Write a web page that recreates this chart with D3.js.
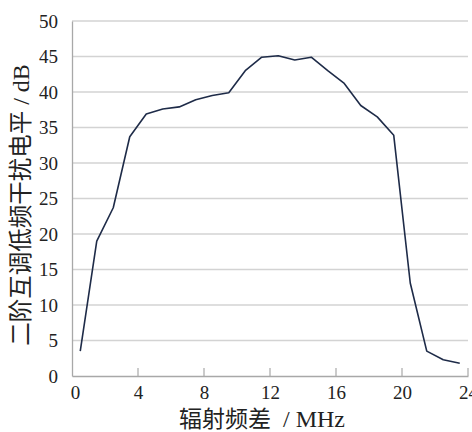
<!DOCTYPE html>
<html><head><meta charset="utf-8">
<script src="https://cdn.jsdelivr.net/npm/d3@7"></script>
<style>body{margin:0;background:#fff}svg{display:block}</style>
</head><body>
<svg id="c" width="472" height="432"></svg>
<script>
const freqDiff = [0.5,1.5,2.5,3.5,4.5,5.5,6.5,7.5,8.5,9.5,10.5,11.5,12.5,13.5,14.5,15.5,16.5,17.5,18.5,19.5,20.5,21.5,22.5,23.5];
const level = [3.5,19,23.7,33.7,36.9,37.6,37.9,38.9,39.5,39.9,43,44.9,45.1,44.5,44.9,43,41.2,38.1,36.5,33.9,13.1,3.5,2.3,1.8];
const xTicks = [0,4,8,12,16,20,24];
const yTicks = [0,5,10,15,20,25,30,35,40,45,50];
const xTitle = ["辐射频差", "  / MHz"];
const yTitle = ["二阶互调低频干扰电平", " / dB"];

const SERIF = "Liberation Serif";
const CJK = "Noto Sans CJK SC";
const svg = d3.select("#c");
const L = 72, R = 468, T = 21, B = 376;
const x = d3.scaleLinear().domain([0,24]).range([L,R]);
const y = d3.scaleLinear().domain([0,50]).range([B,T]);

// gridlines
svg.append("g").selectAll("line").data(yTicks.filter(d=>d>0)).join("line")
  .attr("x1",L).attr("x2",R).attr("y1",d=>y(d)).attr("y2",d=>y(d))
  .attr("stroke","#d3d3d3").attr("stroke-width",1.3);

// x axis
const xa = svg.append("g").attr("transform",`translate(0,${B})`)
  .call(d3.axisBottom(x).tickValues(xTicks).tickSize(0).tickPadding(10).tickFormat(d3.format("d")));
xa.attr("font-family",SERIF).attr("font-size",19);
xa.select(".domain").attr("stroke","#a8a8a8").attr("stroke-width",1.3);
xa.selectAll("text").attr("font-family",SERIF).attr("font-size",19).attr("fill","#222")
  .attr("dx",d=>d===0?3:0);
svg.append("g").selectAll("line").data(xTicks.filter(d=>d>0)).join("line")
  .attr("x1",d=>x(d)).attr("x2",d=>x(d)).attr("y1",B).attr("y2",B-8)
  .attr("stroke","#a8a8a8").attr("stroke-width",1.2);

// y axis
const ya = svg.append("g").attr("transform",`translate(${L},0)`)
  .call(d3.axisLeft(y).tickValues(yTicks).tickSize(0).tickPadding(14));
ya.attr("font-family",SERIF).attr("font-size",19);
ya.select(".domain").attr("stroke","#a8a8a8").attr("stroke-width",1.3);
ya.selectAll("text").attr("font-family",SERIF).attr("font-size",19).attr("fill","#222");

// line
svg.append("path").datum(freqDiff.map((f,i)=>[f,level[i]]))
  .attr("fill","none").attr("stroke","#1e2b48").attr("stroke-width",1.6)
  .attr("stroke-linejoin","round")
  .attr("d",d3.line().x(d=>x(d[0])).y(d=>y(d[1])));

// x title
const xt = svg.append("text").attr("x",262).attr("y",427).attr("text-anchor","middle")
  .attr("font-size",23).attr("fill","#222").attr("xml:space","preserve");
xt.append("tspan").attr("font-family",CJK).text(xTitle[0]);
xt.append("tspan").attr("font-family",SERIF).attr("font-size",24).text(xTitle[1]);

// y title
const yt = svg.append("text").attr("transform","translate(29,205) rotate(-90)")
  .attr("text-anchor","middle").attr("font-size",23.5).attr("fill","#222").attr("xml:space","preserve");
yt.append("tspan").attr("font-family",CJK).text(yTitle[0]);
yt.append("tspan").attr("font-family",SERIF).attr("font-size",24).text(yTitle[1]);
</script>
</body></html>
